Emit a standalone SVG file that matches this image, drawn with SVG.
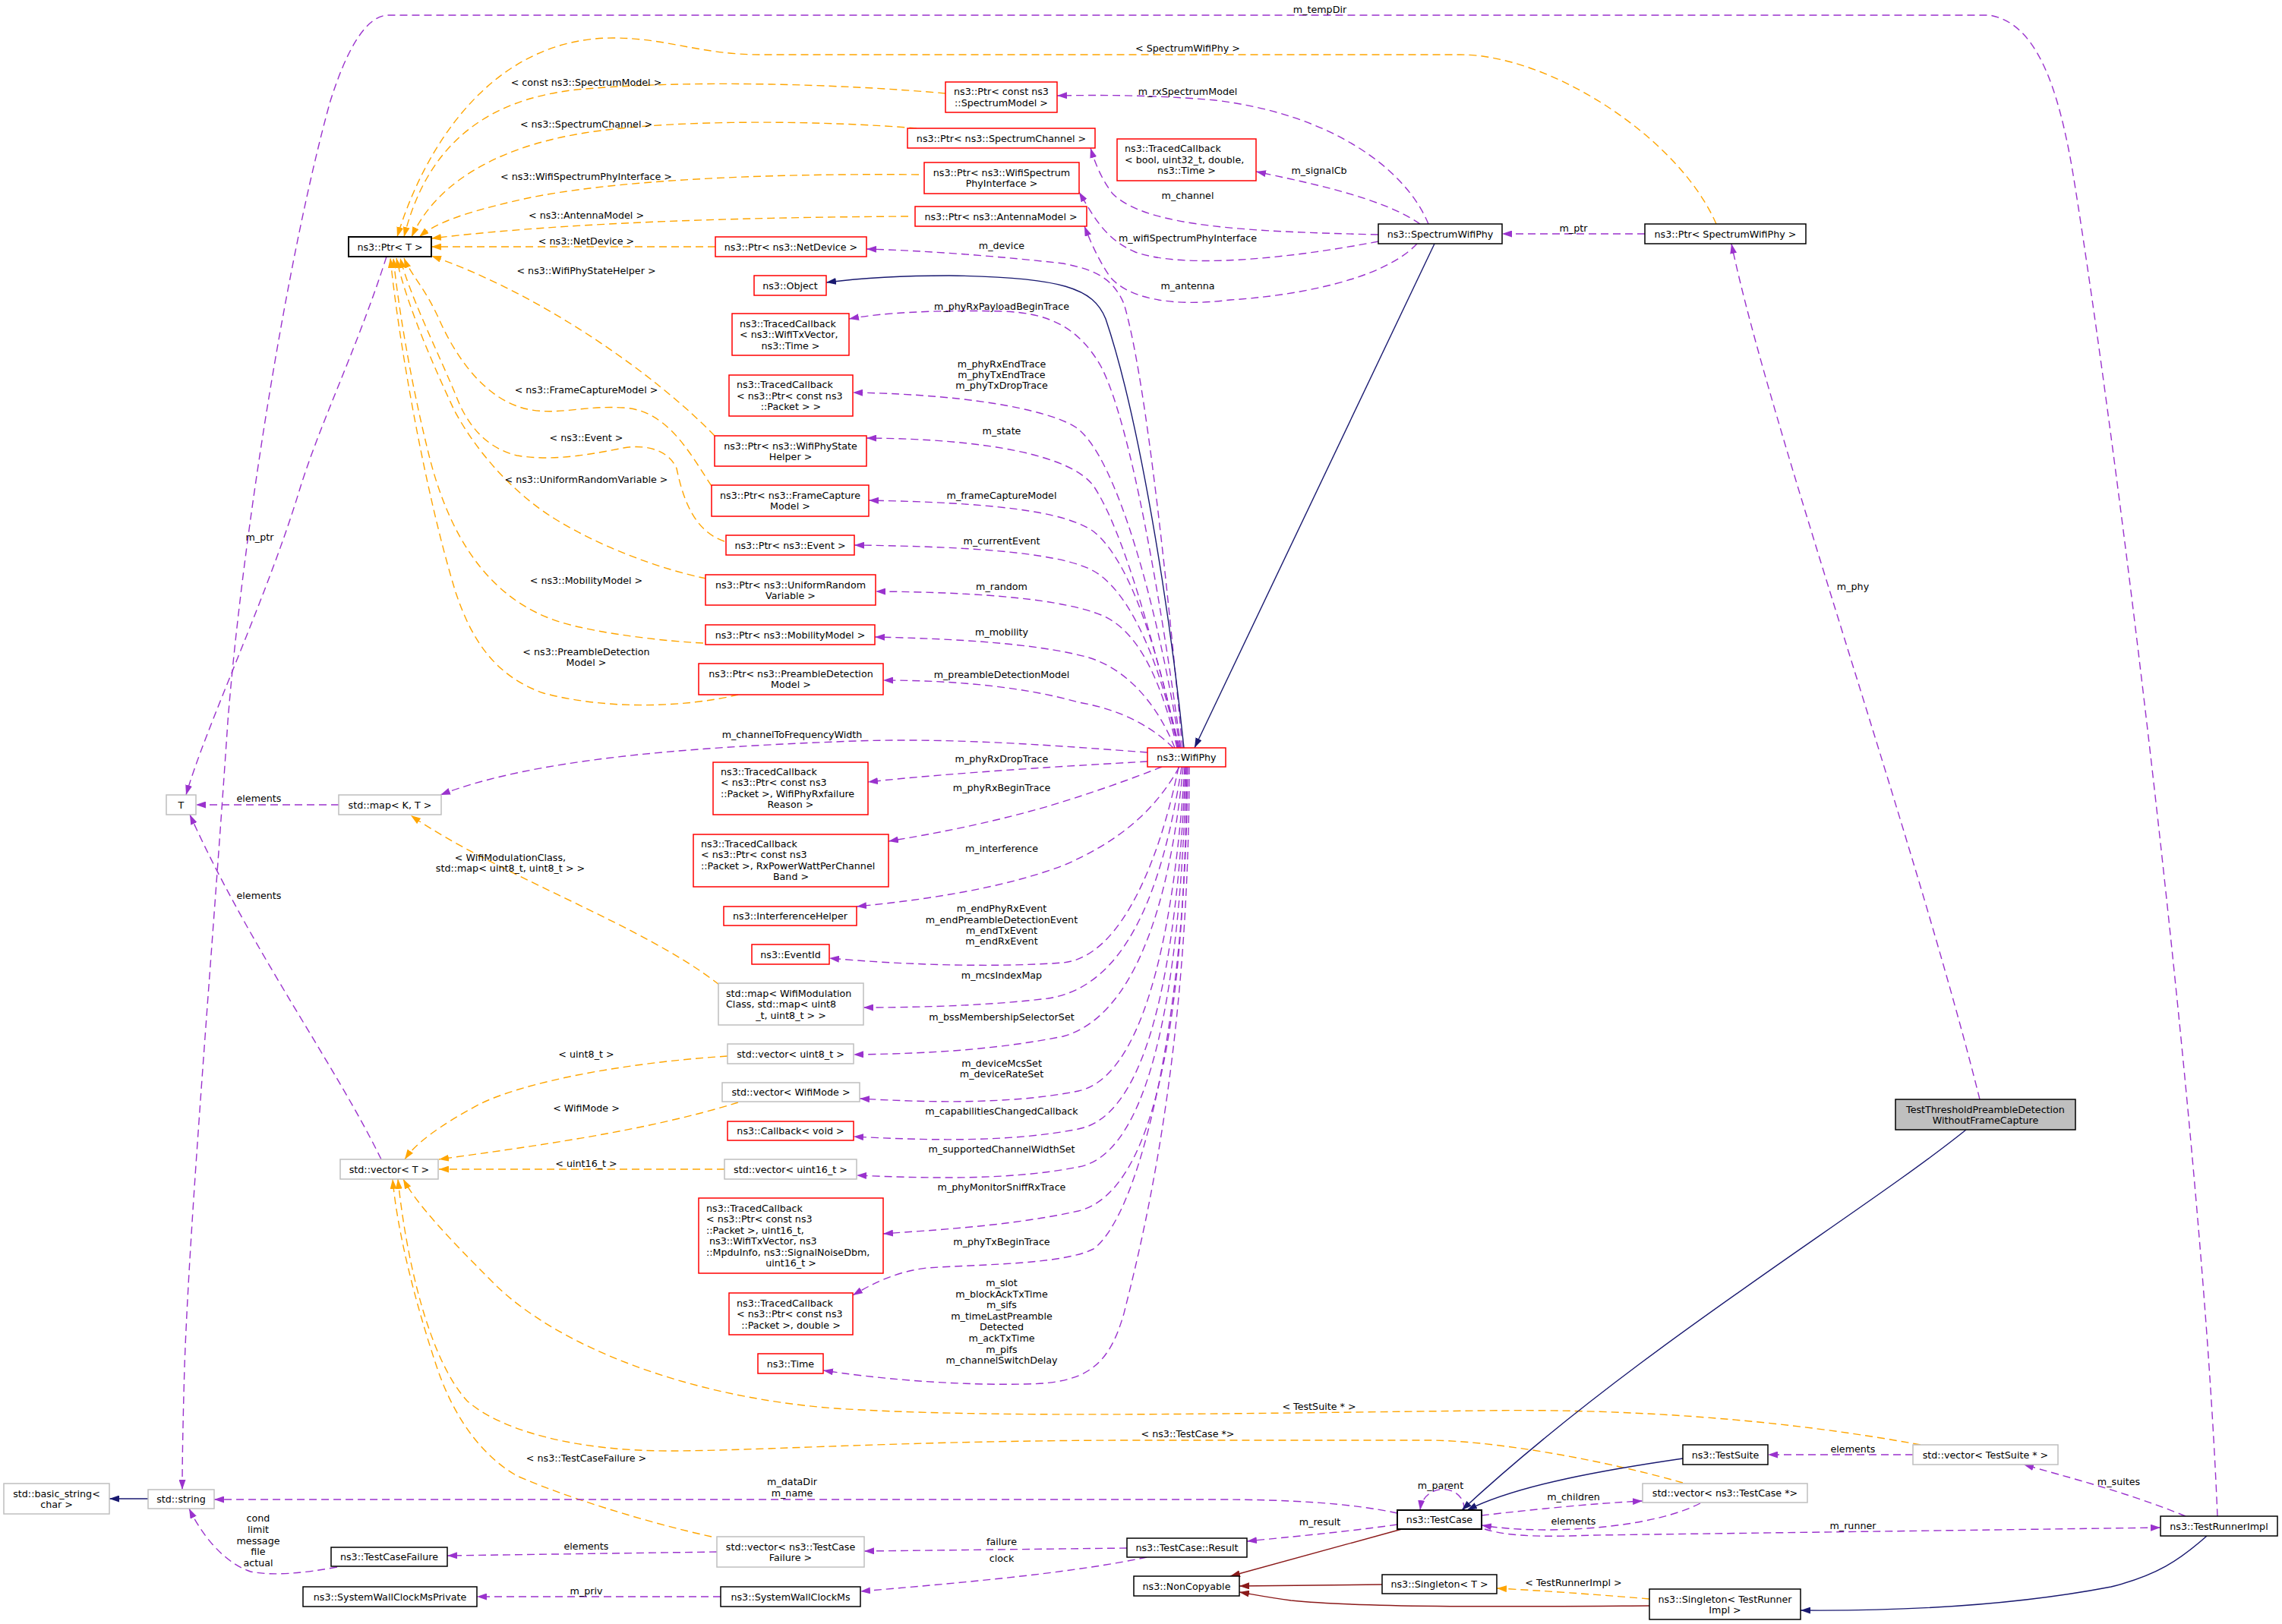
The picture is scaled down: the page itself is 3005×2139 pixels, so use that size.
<svg xmlns="http://www.w3.org/2000/svg" width="3005" height="2139" viewBox="0 0 3005 2139">
<style>
text{font-family:"DejaVu Sans","Liberation Sans",sans-serif;font-size:12.7px;fill:#000}
.c{text-anchor:middle}
.node rect{fill:#fff;stroke-width:1.5}
.red rect{stroke:#ff0000}
.gry rect{stroke:#bfbfbf}
.blk rect{stroke:#000}
.hl rect{fill:#bfbfbf;stroke:#000}
.e{fill:none;stroke-width:1.4}
.p{stroke:#9a32cd;stroke-dasharray:10,6;marker-end:url(#ap)}
.o{stroke:#ffa500;stroke-dasharray:10,6;marker-end:url(#ao)}
.n{stroke:#191970;marker-end:url(#an)}
.r{stroke:#8b1a1a;marker-end:url(#ar)}
</style>
<defs>
<marker id="ap" viewBox="0 0 13 9" refX="13" refY="4.5" markerWidth="13" markerHeight="9" markerUnits="userSpaceOnUse" orient="auto"><path d="M0,0L13,4.5L0,9z" fill="#9a32cd"/></marker>
<marker id="ao" viewBox="0 0 13 9" refX="13" refY="4.5" markerWidth="13" markerHeight="9" markerUnits="userSpaceOnUse" orient="auto"><path d="M0,0L13,4.5L0,9z" fill="#ffa500"/></marker>
<marker id="an" viewBox="0 0 13 9" refX="13" refY="4.5" markerWidth="13" markerHeight="9" markerUnits="userSpaceOnUse" orient="auto"><path d="M0,0L13,4.5L0,9z" fill="#191970"/></marker>
<marker id="ar" viewBox="0 0 13 9" refX="13" refY="4.5" markerWidth="13" markerHeight="9" markerUnits="userSpaceOnUse" orient="auto"><path d="M0,0L13,4.5L0,9z" fill="#8b1a1a"/></marker>
</defs>
<rect x="0" y="0" width="3005" height="2139" fill="#fff"/>
<g id="edges">
<path class="e o" d="M2260,295 C2210,180 2040,72 1923,72 L1003,72 C920,72 880,50 807,50 C650,50 560,190 523,312"/>
<path class="e o" d="M1245,123 C1100,110 900,105 760,118 C630,132 560,200 532,312"/>
<path class="e o" d="M1207,169 C1100,160 900,155 770,175 C640,196 570,250 542,312"/>
<path class="e o" d="M1210,230 C1000,228 800,238 690,262 C610,280 575,293 552,312"/>
<path class="e o" d="M1196,285 C1000,286 750,292 568,314"/>
<path class="e o" d="M942,325 L568,325"/>
<path class="e o" d="M941,574 C870,500 720,390 568,337"/>
<path class="e o" d="M937,640 C910,600 880,540 821,537 C770,534 740,546 700,540 C640,530 600,470 578,420 C560,380 540,360 532,340"/>
<path class="e o" d="M954,713 C915,700 900,660 891,617 C880,592 850,585 821,590 C780,598 730,608 681,600 C640,590 615,560 600,520 C575,460 540,390 527,340"/>
<path class="e o" d="M930,762 C870,750 790,720 730,683 C680,652 630,600 598,540 C570,480 535,400 522,340"/>
<path class="e o" d="M926,847 C880,845 790,835 740,820 C640,790 590,700 565,600 C540,500 524,400 518,340"/>
<path class="e o" d="M972,915 C900,932 800,935 716,913 C650,890 620,840 600,780 C560,650 525,450 514,340"/>
<path class="e o" d="M958,1391 C820,1400 690,1425 630,1455 C580,1482 548,1505 533,1527"/>
<path class="e o" d="M972,1452 C850,1490 700,1510 578,1527"/>
<path class="e o" d="M954,1540 L578,1540"/>
<path class="e o" d="M2529,1903 C2350,1870 2150,1855 1950,1858 C1600,1862 1300,1868 1100,1855 C900,1840 730,1770 650,1690 C590,1630 548,1585 531,1553"/>
<path class="e o" d="M2216,1953 C2100,1920 1960,1897 1880,1897 L1500,1897 C1200,1897 1000,1911 880,1911 C760,1911 660,1885 615,1845 C565,1790 535,1660 524,1553"/>
<path class="e o" d="M937,2024 C850,2005 740,1970 681,1944 C630,1915 595,1860 575,1800 C545,1710 523,1620 517,1553"/>
<path class="e o" d="M947,1297 C850,1220 650,1150 541,1074"/>
<path class="e o" d="M2172,2106 C2100,2100 2030,2095 1971,2092"/>

<path class="e p" d="M2920,1997 C2900,1500 2790,600 2730,230 C2710,110 2680,30 2620,20 L510,20 C480,22 455,70 435,133 C380,330 320,700 300,950 C280,1250 250,1600 243,1800 C241,1870 240,1920 240,1962"/>
<path class="e p" d="M509,338 C470,460 420,560 393,650 C350,790 270,960 245,1047"/>
<path class="e p" d="M502,1527 C440,1400 330,1250 250,1073"/>
<path class="e p" d="M446,1060 L258,1060"/>
<path class="e p" d="M1511,991 C1400,983 1250,970 1100,977 C900,985 700,1000 580,1047"/>
<path class="e p" d="M1511,1003 C1420,1008 1250,1018 1143,1030"/>
<path class="e p" d="M1530,1010 C1480,1030 1420,1050 1380,1062 C1300,1085 1230,1098 1170,1108"/>
<path class="e p" d="M1553,1010 C1520,1070 1470,1110 1400,1140 C1320,1170 1220,1185 1128,1194"/>
<path class="e p" d="M1552,1010 C1530,1120 1480,1260 1400,1268 C1300,1275 1180,1270 1092,1262"/>
<path class="e p" d="M1556,1010 C1530,1180 1480,1300 1380,1315 C1300,1325 1200,1327 1137,1327"/>
<path class="e p" d="M1558,1010 C1540,1200 1490,1340 1400,1365 C1300,1385 1200,1388 1124,1389"/>
<path class="e p" d="M1560,1010 C1545,1250 1500,1420 1420,1437 C1330,1455 1220,1452 1132,1447"/>
<path class="e p" d="M1561,1010 C1550,1280 1510,1470 1420,1487 C1330,1505 1220,1502 1124,1497"/>
<path class="e p" d="M1562,1010 C1555,1300 1515,1520 1420,1537 C1330,1555 1220,1552 1128,1548"/>
<path class="e p" d="M1563,1010 C1560,1350 1520,1570 1420,1595 C1330,1615 1230,1620 1163,1625"/>
<path class="e p" d="M1564,1010 C1562,1350 1500,1600 1440,1645 C1400,1665 1300,1665 1220,1670 C1180,1675 1150,1690 1123,1706"/>
<path class="e p" d="M1566,1010 C1566,1400 1500,1650 1480,1730 C1460,1800 1430,1822 1350,1823 C1250,1825 1150,1815 1084,1805"/>
<path class="e p" d="M1545,985 C1520,960 1480,935 1420,925 C1350,905 1260,896 1163,896"/>
<path class="e p" d="M1547,985 C1525,930 1485,880 1430,865 C1380,852 1300,842 1152,839"/>
<path class="e p" d="M1550,985 C1530,900 1500,830 1450,810 C1400,790 1300,780 1153,779"/>
<path class="e p" d="M1551,985 C1530,880 1490,780 1440,752 C1400,730 1300,720 1125,718"/>
<path class="e p" d="M1552,985 C1525,860 1490,740 1440,700 C1400,672 1300,662 1144,659"/>
<path class="e p" d="M1553,985 C1520,850 1480,700 1440,640 C1410,600 1300,578 1141,577"/>
<path class="e p" d="M1554,985 C1525,800 1470,600 1417,563 C1390,545 1300,520 1123,517"/>
<path class="e p" d="M1555,985 C1530,800 1490,560 1450,483 C1420,430 1380,412 1320,410 C1230,408 1160,412 1118,420"/>
<path class="e p" d="M1557,985 C1540,800 1510,500 1480,400 C1465,365 1440,355 1400,347 C1320,338 1220,330 1141,328"/>
<path class="e p" d="M1881,295 C1850,220 1750,150 1600,132 C1520,125 1450,125 1392,126"/>
<path class="e p" d="M1870,295 C1820,260 1720,240 1654,226"/>
<path class="e p" d="M1815,309 C1650,305 1510,300 1465,255 C1450,235 1442,215 1436,195"/>
<path class="e p" d="M1815,318 C1700,340 1560,355 1495,332 C1455,315 1440,285 1421,253"/>
<path class="e p" d="M1866,321 C1820,370 1700,390 1620,395 C1540,405 1485,392 1462,365 C1445,340 1436,318 1428,298"/>
<path class="e p" d="M2166,308 L1978,308"/>
<path class="e p" d="M2607,1448 C2520,1100 2330,560 2280,321"/>
<path class="e p" d="M1928,1989 C1930,1955 1875,1950 1870,1989"/>
<path class="e p" d="M1951,1996 C2020,1988 2100,1980 2163,1977"/>
<path class="e p" d="M2239,1980 C2180,2010 2070,2018 2000,2014 C1980,2013 1965,2011 1951,2009"/>
<path class="e p" d="M1955,2014 C1990,2025 2040,2024 2100,2022 C2400,2018 2700,2014 2845,2012"/>
<path class="e p" d="M2878,1997 C2800,1965 2720,1945 2665,1929"/>
<path class="e p" d="M2519,1916 L2328,1916"/>
<path class="e p" d="M1840,2008 C1770,2018 1700,2024 1642,2030"/>
<path class="e p" d="M1840,1993 C1780,1980 1700,1975 1600,1975 L282,1975"/>
<path class="e p" d="M1484,2039 L1138,2043"/>
<path class="e p" d="M1510,2051 C1420,2070 1300,2082 1133,2096"/>
<path class="e p" d="M949,2103 L628,2103"/>
<path class="e p" d="M944,2044 L589,2049"/>
<path class="e p" d="M444,2064 C400,2072 360,2076 330,2070 C300,2060 270,2030 249,1987"/>

<path class="e n" d="M195,1974 L144,1974"/>
<path class="e n" d="M1559,985 C1540,800 1500,550 1456,420 C1440,380 1400,365 1250,363 C1180,363 1120,368 1088,372"/>
<path class="e n" d="M1889,321 L1573,985"/>
<path class="e n" d="M2589,1488 C2450,1600 2150,1780 1925,1989"/>
<path class="e n" d="M2216,1921 C2120,1935 2000,1955 1932,1989"/>
<path class="e n" d="M2906,2023 C2870,2055 2840,2075 2780,2090 C2650,2115 2500,2122 2371,2121"/>

<path class="e r" d="M1846,2014 L1620,2076"/>
<path class="e r" d="M1820,2087 L1632,2089"/>
<path class="e r" d="M2172,2115 C2000,2116 1800,2118 1700,2108 C1670,2104 1650,2100 1632,2097"/>

<g id="edge-labels" class="c">
<text x="1738" y="17" class="c">m_tempDir</text>
<text x="1564" y="68" class="c">&lt; SpectrumWifiPhy &gt;</text>
<text x="772" y="113" class="c">&lt; const ns3::SpectrumModel &gt;</text>
<text x="1564" y="125" class="c">m_rxSpectrumModel</text>
<text x="772" y="168" class="c">&lt; ns3::SpectrumChannel &gt;</text>
<text x="1737" y="229" class="c">m_signalCb</text>
<text x="772" y="237" class="c">&lt; ns3::WifiSpectrumPhyInterface &gt;</text>
<text x="1564" y="262" class="c">m_channel</text>
<text x="772" y="288" class="c">&lt; ns3::AntennaModel &gt;</text>
<text x="2072" y="305" class="c">m_ptr</text>
<text x="1564" y="318" class="c">m_wifiSpectrumPhyInterface</text>
<text x="772" y="322" class="c">&lt; ns3::NetDevice &gt;</text>
<text x="1319" y="328" class="c">m_device</text>
<text x="772" y="361" class="c">&lt; ns3::WifiPhyStateHelper &gt;</text>
<text x="1564" y="381" class="c">m_antenna</text>
<text x="1319" y="408" class="c">m_phyRxPayloadBeginTrace</text>
<text x="1319" y="484" class="c">m_phyRxEndTrace</text>
<text x="1319" y="498" class="c">m_phyTxEndTrace</text>
<text x="1319" y="512" class="c">m_phyTxDropTrace</text>
<text x="772" y="518" class="c">&lt; ns3::FrameCaptureModel &gt;</text>
<text x="1319" y="572" class="c">m_state</text>
<text x="772" y="581" class="c">&lt; ns3::Event &gt;</text>
<text x="772" y="636" class="c">&lt; ns3::UniformRandomVariable &gt;</text>
<text x="1319" y="657" class="c">m_frameCaptureModel</text>
<text x="342" y="712" class="c">m_ptr</text>
<text x="1319" y="717" class="c">m_currentEvent</text>
<text x="772" y="769" class="c">&lt; ns3::MobilityModel &gt;</text>
<text x="1319" y="777" class="c">m_random</text>
<text x="2440" y="777" class="c">m_phy</text>
<text x="1319" y="837" class="c">m_mobility</text>
<text x="772" y="863" class="c">&lt; ns3::PreambleDetection</text>
<text x="772" y="877" class="c">Model &gt;</text>
<text x="1319" y="893" class="c">m_preambleDetectionModel</text>
<text x="1043" y="972" class="c">m_channelToFrequencyWidth</text>
<text x="1319" y="1004" class="c">m_phyRxDropTrace</text>
<text x="1319" y="1042" class="c">m_phyRxBeginTrace</text>
<text x="341" y="1056" class="c">elements</text>
<text x="1319" y="1122" class="c">m_interference</text>
<text x="672" y="1134">&lt; WifiModulationClass,</text>
<text x="672" y="1148">std::map&lt; uint8_t, uint8_t &gt; &gt;</text>
<text x="341" y="1184" class="c">elements</text>
<text x="1319" y="1201" class="c">m_endPhyRxEvent</text>
<text x="1319" y="1216" class="c">m_endPreambleDetectionEvent</text>
<text x="1319" y="1230" class="c">m_endTxEvent</text>
<text x="1319" y="1244" class="c">m_endRxEvent</text>
<text x="1319" y="1289" class="c">m_mcsIndexMap</text>
<text x="1319" y="1344" class="c">m_bssMembershipSelectorSet</text>
<text x="772" y="1393" class="c">&lt; uint8_t &gt;</text>
<text x="1319" y="1405" class="c">m_deviceMcsSet</text>
<text x="1319" y="1419" class="c">m_deviceRateSet</text>
<text x="772" y="1464" class="c">&lt; WifiMode &gt;</text>
<text x="1319" y="1468" class="c">m_capabilitiesChangedCallback</text>
<text x="1319" y="1518" class="c">m_supportedChannelWidthSet</text>
<text x="772" y="1537" class="c">&lt; uint16_t &gt;</text>
<text x="1319" y="1568" class="c">m_phyMonitorSniffRxTrace</text>
<text x="1319" y="1640" class="c">m_phyTxBeginTrace</text>
<text x="1319" y="1694" class="c">m_slot</text>
<text x="1319" y="1708.6" class="c">m_blockAckTxTime</text>
<text x="1319" y="1723.2" class="c">m_sifs</text>
<text x="1319" y="1737.8" class="c">m_timeLastPreamble</text>
<text x="1319" y="1752.4" class="c">Detected</text>
<text x="1319" y="1767" class="c">m_ackTxTime</text>
<text x="1319" y="1781.6" class="c">m_pifs</text>
<text x="1319" y="1796.2" class="c">m_channelSwitchDelay</text>
<text x="1737" y="1857" class="c">&lt; TestSuite * &gt;</text>
<text x="1564" y="1893" class="c">&lt; ns3::TestCase *&gt;</text>
<text x="2440" y="1913" class="c">elements</text>
<text x="772" y="1925" class="c">&lt; ns3::TestCaseFailure &gt;</text>
<text x="1043" y="1956" class="c">m_dataDir</text>
<text x="1043" y="1971" class="c">m_name</text>
<text x="2790" y="1956" class="c">m_suites</text>
<text x="1897" y="1961" class="c">m_parent</text>
<text x="2072" y="1976" class="c">m_children</text>
<text x="340" y="2004" class="c">cond</text>
<text x="340" y="2019" class="c">limit</text>
<text x="340" y="2034" class="c">message</text>
<text x="340" y="2048" class="c">file</text>
<text x="340" y="2063" class="c">actual</text>
<text x="2072" y="2008" class="c">elements</text>
<text x="1738" y="2009" class="c">m_result</text>
<text x="2440" y="2014" class="c">m_runner</text>
<text x="1319" y="2035" class="c">failure</text>
<text x="772" y="2041" class="c">elements</text>
<text x="1319" y="2057" class="c">clock</text>
<text x="2072" y="2089" class="c">&lt; TestRunnerImpl &gt;</text>
<text x="772" y="2100" class="c">m_priv</text>
</g>
</g>

<g id="n_ptrT" class="node blk"><rect x="459" y="312" width="109" height="26" style="stroke-width:2"/><text x="513.5" y="329.5" class="c">ns3::Ptr&lt; T &gt;</text></g>
<g id="n_ptrConstSM" class="node red"><rect x="1245" y="108" width="147" height="40"/><text x="1318.5" y="124.5" class="c">ns3::Ptr&lt; const ns3</text><text x="1318.5" y="139.5" class="c">::SpectrumModel &gt;</text></g>
<g id="n_ptrSC" class="node red"><rect x="1195" y="169" width="247" height="26"/><text x="1318.5" y="186.5" class="c">ns3::Ptr&lt; ns3::SpectrumChannel &gt;</text></g>
<g id="n_ptrWSPI" class="node red"><rect x="1217" y="214" width="204" height="41"/><text x="1319" y="231.5" class="c">ns3::Ptr&lt; ns3::WifiSpectrum</text><text x="1319" y="245.5" class="c">PhyInterface &gt;</text></g>
<g id="n_ptrAM" class="node red"><rect x="1205" y="272" width="226" height="26"/><text x="1318" y="289.5" class="c">ns3::Ptr&lt; ns3::AntennaModel &gt;</text></g>
<g id="n_ptrND" class="node red"><rect x="942" y="312" width="199" height="26"/><text x="1041.5" y="329.5" class="c">ns3::Ptr&lt; ns3::NetDevice &gt;</text></g>
<g id="n_object" class="node red"><rect x="993" y="363" width="95" height="26"/><text x="1040.5" y="380.5" class="c">ns3::Object</text></g>
<g id="n_tcTxVec" class="node red"><rect x="964" y="413" width="154" height="55"/><text x="974" y="430.5">ns3::TracedCallback</text><text x="974" y="445">&lt; ns3::WifiTxVector,</text><text x="1041" y="459.5" class="c">ns3::Time &gt;</text></g>
<g id="n_tcPkt" class="node red"><rect x="960" y="494" width="163" height="54"/><text x="970" y="511">ns3::TracedCallback</text><text x="970" y="525.5">&lt; ns3::Ptr&lt; const ns3</text><text x="1041.5" y="540" class="c">::Packet &gt; &gt;</text></g>
<g id="n_ptrWPSH" class="node red"><rect x="941" y="574" width="200" height="40"/><text x="1041" y="591.5" class="c">ns3::Ptr&lt; ns3::WifiPhyState</text><text x="1041" y="605.5" class="c">Helper &gt;</text></g>
<g id="n_ptrFCM" class="node red"><rect x="937" y="639" width="207" height="41"/><text x="1040.5" y="656.5" class="c">ns3::Ptr&lt; ns3::FrameCapture</text><text x="1040.5" y="671" class="c">Model &gt;</text></g>
<g id="n_ptrEvent" class="node red"><rect x="956" y="705" width="169" height="26"/><text x="1040.5" y="722.5" class="c">ns3::Ptr&lt; ns3::Event &gt;</text></g>
<g id="n_ptrURV" class="node red"><rect x="929" y="757" width="224" height="40"/><text x="1041" y="774.5" class="c">ns3::Ptr&lt; ns3::UniformRandom</text><text x="1041" y="788.5" class="c">Variable &gt;</text></g>
<g id="n_ptrMM" class="node red"><rect x="929" y="823" width="223" height="26"/><text x="1040.5" y="840.5" class="c">ns3::Ptr&lt; ns3::MobilityModel &gt;</text></g>
<g id="n_ptrPDM" class="node red"><rect x="920" y="874" width="243" height="41"/><text x="1041.5" y="891.5" class="c">ns3::Ptr&lt; ns3::PreambleDetection</text><text x="1041.5" y="906" class="c">Model &gt;</text></g>
<g id="n_wifiPhy" class="node red"><rect x="1511" y="985" width="103" height="25"/><text x="1562.5" y="1002" class="c">ns3::WifiPhy</text></g>
<g id="n_mapKT" class="node gry"><rect x="446" y="1047" width="135" height="26"/><text x="513.5" y="1064.5" class="c">std::map&lt; K, T &gt;</text></g>
<g id="n_T" class="node gry"><rect x="219" y="1047" width="39" height="26"/><text x="238.5" y="1064.5" class="c">T</text></g>
<g id="n_tcRxFail" class="node red"><rect x="939" y="1004" width="204" height="69"/><text x="949" y="1020.5">ns3::TracedCallback</text><text x="949" y="1035">&lt; ns3::Ptr&lt; const ns3</text><text x="949" y="1049.5">::Packet &gt;, WifiPhyRxfailure</text><text x="1041" y="1064" class="c">Reason &gt;</text></g>
<g id="n_tcRxPow" class="node red"><rect x="913" y="1099" width="257" height="69"/><text x="923" y="1115.5">ns3::TracedCallback</text><text x="923" y="1130">&lt; ns3::Ptr&lt; const ns3</text><text x="923" y="1144.5">::Packet &gt;, RxPowerWattPerChannel</text><text x="1041.5" y="1159" class="c">Band &gt;</text></g>
<g id="n_intf" class="node red"><rect x="953" y="1194" width="175" height="25"/><text x="1040.5" y="1211" class="c">ns3::InterferenceHelper</text></g>
<g id="n_eventId" class="node red"><rect x="990" y="1244" width="102" height="26"/><text x="1041" y="1261.5" class="c">ns3::EventId</text></g>
<g id="n_mapWMC" class="node gry"><rect x="946" y="1295" width="191" height="55"/><text x="956" y="1312.5">std::map&lt; WifiModulation</text><text x="956" y="1327">Class, std::map&lt; uint8</text><text x="1041.5" y="1341.5" class="c">_t, uint8_t &gt; &gt;</text></g>
<g id="n_vecU8" class="node gry"><rect x="958" y="1375" width="166" height="26"/><text x="1041" y="1392.5" class="c">std::vector&lt; uint8_t &gt;</text></g>
<g id="n_vecWM" class="node gry"><rect x="951" y="1426" width="181" height="25"/><text x="1041.5" y="1443" class="c">std::vector&lt; WifiMode &gt;</text></g>
<g id="n_cbVoid" class="node red"><rect x="958" y="1477" width="166" height="25"/><text x="1041" y="1494" class="c">ns3::Callback&lt; void &gt;</text></g>
<g id="n_vecT" class="node gry"><rect x="448" y="1527" width="129" height="26"/><text x="512.5" y="1544.5" class="c">std::vector&lt; T &gt;</text></g>
<g id="n_vecU16" class="node gry"><rect x="954" y="1527" width="174" height="26"/><text x="1041" y="1544.5" class="c">std::vector&lt; uint16_t &gt;</text></g>
<g id="n_tcBig" class="node red"><rect x="920" y="1578" width="243" height="99"/><text x="930" y="1595.5">ns3::TracedCallback</text><text x="930" y="1610">&lt; ns3::Ptr&lt; const ns3</text><text x="930" y="1624.5">::Packet &gt;, uint16_t,</text><text x="930" y="1639" xml:space="preserve"> ns3::WifiTxVector, ns3</text><text x="930" y="1653.5">::MpduInfo, ns3::SignalNoiseDbm,</text><text x="1041.5" y="1668" class="c">uint16_t &gt;</text></g>
<g id="n_tcDouble" class="node red"><rect x="960" y="1703" width="163" height="55"/><text x="970" y="1720.5">ns3::TracedCallback</text><text x="970" y="1735">&lt; ns3::Ptr&lt; const ns3</text><text x="1041.5" y="1749.5" class="c">::Packet &gt;, double &gt;</text></g>
<g id="n_time" class="node red"><rect x="998" y="1783" width="86" height="26"/><text x="1041" y="1800.5" class="c">ns3::Time</text></g>
<g id="n_vecTCF" class="node gry"><rect x="944" y="2024" width="194" height="40"/><text x="1041" y="2041.5" class="c">std::vector&lt; ns3::TestCase</text><text x="1041" y="2055.5" class="c">Failure &gt;</text></g>
<g id="n_tcf" class="node blk"><rect x="436" y="2038" width="153" height="25"/><text x="512.5" y="2055" class="c">ns3::TestCaseFailure</text></g>
<g id="n_swcmp" class="node blk"><rect x="399" y="2090" width="229" height="26"/><text x="513.5" y="2107.5" class="c">ns3::SystemWallClockMsPrivate</text></g>
<g id="n_swcm" class="node blk"><rect x="949" y="2090" width="184" height="26"/><text x="1041" y="2107.5" class="c">ns3::SystemWallClockMs</text></g>
<g id="n_string" class="node gry"><rect x="195" y="1962" width="87" height="25"/><text x="238.5" y="1979" class="c">std::string</text></g>
<g id="n_basicString" class="node gry"><rect x="5" y="1954" width="139" height="40"/><text x="74.5" y="1971.5" class="c">std::basic_string&lt;</text><text x="74.5" y="1985.5" class="c">char &gt;</text></g>
<g id="n_tcBool" class="node red"><rect x="1471" y="183" width="183" height="55"/><text x="1481" y="200">ns3::TracedCallback</text><text x="1481" y="214.5">&lt; bool, uint32_t, double,</text><text x="1562.5" y="229" class="c">ns3::Time &gt;</text></g>
<g id="n_swp" class="node blk"><rect x="1815" y="295" width="163" height="26"/><text x="1896.5" y="312.5" class="c">ns3::SpectrumWifiPhy</text></g>
<g id="n_ptrSWP" class="node blk"><rect x="2166" y="295" width="212" height="26"/><text x="2272" y="312.5" class="c">ns3::Ptr&lt; SpectrumWifiPhy &gt;</text></g>
<g id="n_testThr" class="node hl"><rect x="2496" y="1448" width="237" height="40"/><text x="2614.5" y="1465.5" class="c">TestThresholdPreambleDetection</text><text x="2614.5" y="1480" class="c">WithoutFrameCapture</text></g>
<g id="n_testSuite" class="node blk"><rect x="2216" y="1903" width="112" height="26"/><text x="2272" y="1920.5" class="c">ns3::TestSuite</text></g>
<g id="n_vecTS" class="node gry"><rect x="2519" y="1903" width="191" height="26"/><text x="2614.5" y="1920.5" class="c">std::vector&lt; TestSuite * &gt;</text></g>
<g id="n_vecTC" class="node gry"><rect x="2163" y="1954" width="217" height="25"/><text x="2271.5" y="1971" class="c">std::vector&lt; ns3::TestCase *&gt;</text></g>
<g id="n_testCase" class="node blk"><rect x="1840" y="1989" width="111" height="25" style="stroke-width:2"/><text x="1895.5" y="2006" class="c">ns3::TestCase</text></g>
<g id="n_tcResult" class="node blk"><rect x="1484" y="2026" width="158" height="25"/><text x="1563" y="2043" class="c">ns3::TestCase::Result</text></g>
<g id="n_nonCopy" class="node blk"><rect x="1493" y="2076" width="139" height="26"/><text x="1562.5" y="2093.5" class="c">ns3::NonCopyable</text></g>
<g id="n_singT" class="node blk"><rect x="1820" y="2074" width="151" height="25"/><text x="1895.5" y="2091" class="c">ns3::Singleton&lt; T &gt;</text></g>
<g id="n_singTRI" class="node blk"><rect x="2172" y="2093" width="199" height="40"/><text x="2271.5" y="2110.5" class="c">ns3::Singleton&lt; TestRunner</text><text x="2271.5" y="2125" class="c">Impl &gt;</text></g>
<g id="n_testRunner" class="node blk"><rect x="2845" y="1997" width="154" height="26"/><text x="2922" y="2014.5" class="c">ns3::TestRunnerImpl</text></g>
</svg>
